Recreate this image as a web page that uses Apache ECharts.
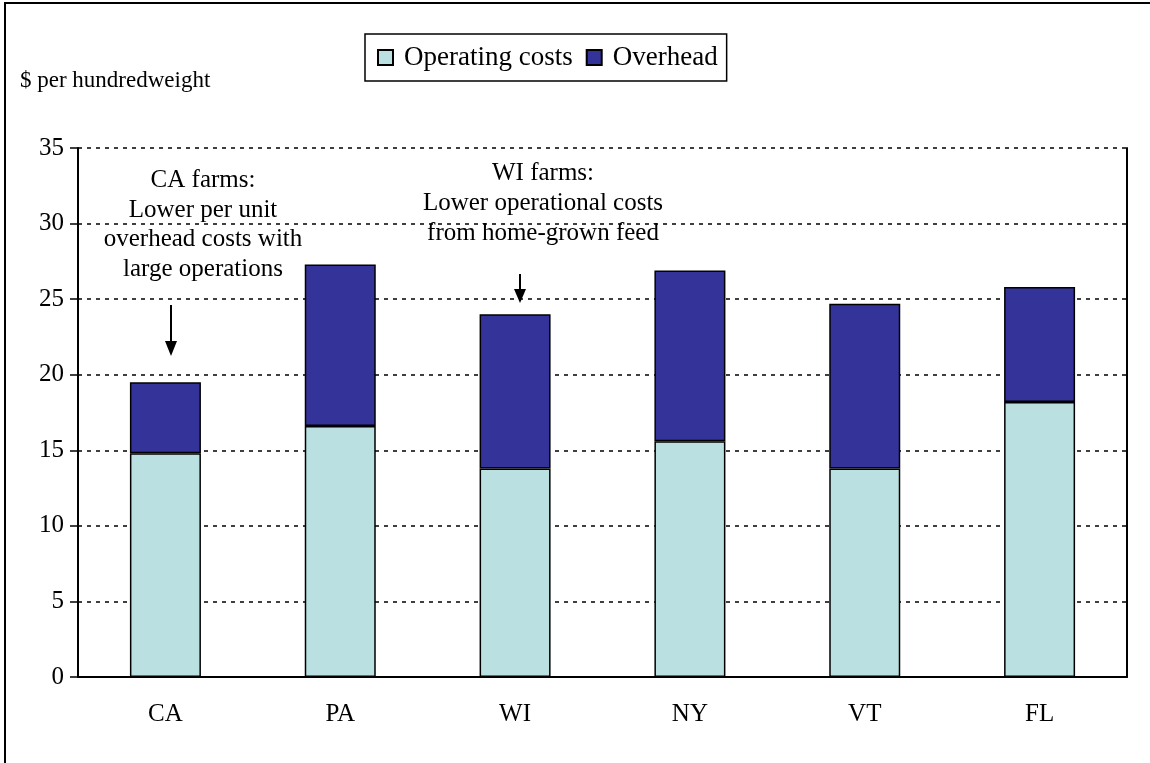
<!DOCTYPE html>
<html>
<head>
<meta charset="utf-8">
<script src="https://cdn.jsdelivr.net/npm/echarts@6/dist/echarts.min.js"></script>
<style>
  html, body { margin: 0; padding: 0; background: #fff; }
  #chart { width: 1150px; height: 763px; }
</style>
</head>
<body>
<div id="chart"></div>
<script>
// data
const states = ["CA", "PA", "WI", "NY", "VT", "FL"];
const operatingCosts = [14.8, 16.6, 13.8, 15.6, 13.8, 18.2];
const overhead = [4.7, 10.7, 10.2, 11.3, 10.9, 7.6];
const yTicks = { min: 0, max: 35, interval: 5 };

const serif = "Liberation Serif";

var chart = echarts.init(document.getElementById("chart"));

chart.setOption({
  animation: false,
  backgroundColor: "#fff",
  textStyle: { fontFamily: serif, color: "#000" },
  grid: { left: 78, right: 23, top: 148, bottom: 86 },
  legend: {
    left: 365,
    top: 34,
    padding: [10, 9, 10, 12],
    icon: "rect",
    itemWidth: 15,
    itemHeight: 15,
    itemGap: 13,
    borderColor: "#000",
    borderWidth: 1.5,
    textStyle: { fontFamily: serif, fontSize: 27, color: "#000", padding: [0, 0, 0, 6] },
    data: ["Operating costs", "Overhead"],
  },
  xAxis: {
    type: "category",
    data: states,
    axisLine: { lineStyle: { color: "#000", width: 2 } },
    axisTick: { length: 8, lineStyle: { color: "#000", width: 1.5 } },
    axisLabel: { color: "#000", fontFamily: serif, fontSize: 25, margin: 25 },
  },
  yAxis: [
    {
      type: "value",
      min: yTicks.min,
      max: yTicks.max,
      interval: yTicks.interval,
      axisLine: { show: true, lineStyle: { color: "#000", width: 2 } },
      axisTick: { show: true, inside: false, length: 8, lineStyle: { color: "#000", width: 1.5 } },
      axisLabel: { color: "#000", fontFamily: serif, fontSize: 25, margin: 14 },
      splitLine: { lineStyle: { color: "#000", type: [4, 5], width: 1.5 } },
    },
    {
      // right-hand frame of the plot area
      type: "value",
      position: "right",
      min: yTicks.min,
      max: yTicks.max,
      interval: yTicks.interval,
      axisLine: { show: true, lineStyle: { color: "#000", width: 2 } },
      axisTick: { show: false },
      axisLabel: { show: false },
      splitLine: { show: false },
    },
  ],
  series: [
    {
      name: "Operating costs",
      type: "bar",
      stack: "cost",
      barWidth: 71,
      data: operatingCosts,
      itemStyle: { color: "#BAE0E2", borderColor: "#000", borderWidth: 1.5 },
    },
    {
      name: "Overhead",
      type: "bar",
      stack: "cost",
      barWidth: 71,
      data: overhead,
      itemStyle: { color: "#333399", borderColor: "#000", borderWidth: 1.5 },
    },
  ],
  graphic: [
    // outer frame
    {
      type: "rect",
      shape: { x: 5, y: 3, width: 1200, height: 820 },
      style: { fill: "none", stroke: "#000", lineWidth: 2 },
      silent: true,
    },
    {
      type: "text",
      left: 20,
      top: 69,
      style: { text: "$ per hundredweight", font: "23px " + serif, fill: "#000" },
    },
    // CA note
    {
      type: "text",
      x: 203,
      y: 166,
      style: {
        text: "CA farms:\nLower per unit\noverhead costs with\nlarge operations",
        font: "25px " + serif,
        fill: "#000",
        align: "center",
        lineHeight: 29.5,
      },
    },
    {
      type: "line",
      shape: { x1: 171, y1: 305, x2: 171, y2: 345 },
      style: { stroke: "#000", lineWidth: 2 },
    },
    {
      type: "polygon",
      shape: { points: [[165, 341], [177, 341], [171, 356]] },
      style: { fill: "#000" },
    },
    // WI note
    {
      type: "text",
      x: 543,
      y: 158,
      style: {
        text: "WI farms:\nLower operational costs\nfrom home-grown feed",
        font: "25px " + serif,
        fill: "#000",
        align: "center",
        lineHeight: 30,
      },
    },
    {
      type: "line",
      shape: { x1: 520, y1: 274, x2: 520, y2: 292 },
      style: { stroke: "#000", lineWidth: 2 },
    },
    {
      type: "polygon",
      shape: { points: [[514, 289], [526, 289], [520, 303]] },
      style: { fill: "#000" },
    },
  ],
});
</script>
</body>
</html>
